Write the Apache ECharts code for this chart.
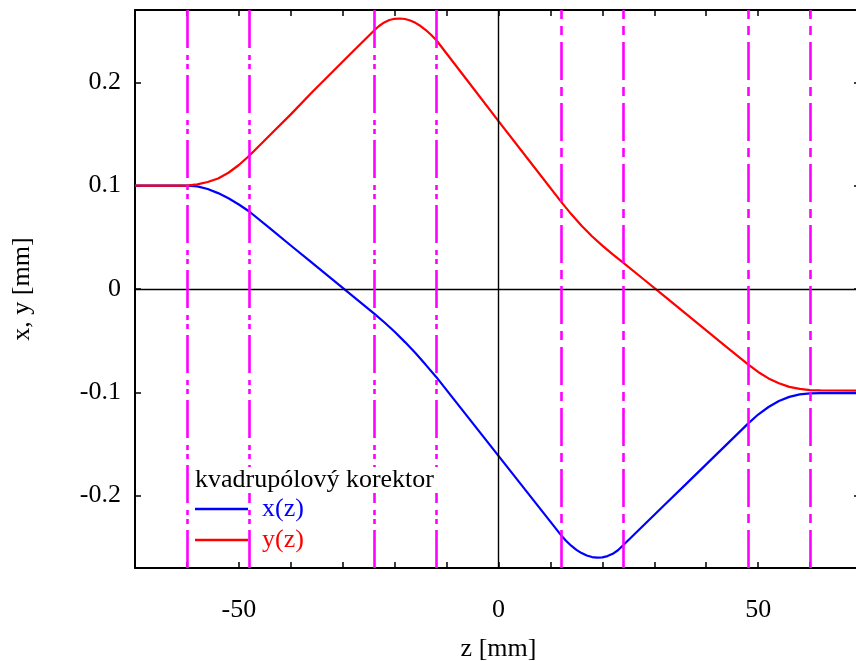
<!DOCTYPE html>
<html>
<head>
<meta charset="utf-8">
<script src="https://cdn.jsdelivr.net/npm/echarts@6/dist/echarts.min.js"></script>
<style>
  html, body { margin: 0; padding: 0; background: #fff; }
  #chart { width: 856px; height: 661px; }
</style>
</head>
<body>
<div id="chart"></div>
<script>
const font = 'Liberation Serif'

// x(z) – modra krivka
const zX = [-70, -60, -58, -56, -54, -52, -50, -48, -44, -40, -36, -32, -28, -24, -22, -20, -18, -16, -14, -12,
  -6, 0, 6, 12, 13, 14, 15, 16, 17, 18, 19, 20, 21, 22, 23, 24, 28, 32, 36, 40, 44, 48, 50, 52, 54, 56, 58, 60, 62, 70]
const xVals = [0.1, 0.1, 0.0993, 0.0968, 0.0928, 0.0878, 0.0818, 0.0750, 0.0586, 0.0421, 0.0257, 0.0093, -0.0072, -0.0236,
  -0.0322, -0.0414, -0.0514, -0.0620, -0.0734, -0.0851, -0.1233, -0.1615, -0.1997, -0.2380, -0.2436, -0.2484, -0.2524,
  -0.2556, -0.2579, -0.2594, -0.2600, -0.2597, -0.2585, -0.2563, -0.2528, -0.2480, -0.2284, -0.2088, -0.1893, -0.1697,
  -0.1501, -0.1305, -0.1215, -0.1142, -0.1084, -0.1044, -0.1020, -0.1010, -0.1008, -0.1008]

// y(z) – cervena krivka
const zY = [-70, -62, -60, -58, -56, -54, -52, -50, -48, -44, -40, -36, -32, -28, -24, -23, -22, -21, -20, -19, -18, -17,
  -16, -15, -14, -13, -12, -6, 0, 6, 12, 14, 16, 18, 20, 22, 24, 28, 32, 36, 40, 44, 48, 50, 52, 54, 56, 58, 60, 62, 70]
const yVals = [0.1, 0.1, 0.1, 0.1012, 0.1035, 0.1070, 0.1125, 0.1200, 0.1290, 0.149, 0.169, 0.190, 0.210, 0.230, 0.2500,
  0.2545, 0.2580, 0.2603, 0.2615, 0.2618, 0.2613, 0.2599, 0.2576, 0.2545, 0.2506, 0.2460, 0.2410, 0.2018, 0.1625, 0.1236,
  0.0848, 0.0725, 0.0612, 0.0510, 0.0420, 0.0335, 0.0256, 0.0092, -0.0072, -0.0236, -0.0400, -0.0564, -0.0728, -0.0803,
  -0.0865, -0.0912, -0.0947, -0.0967, -0.0978, -0.0982, -0.0984]

const xTicks = [-60, -50, -40, -30, -20, -10, 0, 10, 20, 30, 40, 50, 60]
const xLabels = [-50, 0, 50]
const yTicks = [-0.2, -0.1, 0, 0.1, 0.2]

// hranice korektoru
const leftMarks = [-60, -48, -24, -12]
const rightMarks = [12, 24, 48, 60]

const pair = (zs, vs) => zs.map((z, i) => [z, vs[i]])

const frameLine = { show: true, lineStyle: { color: '#000', width: 2 } }
const txt = { fontFamily: font, fontSize: 26, color: '#000' }

function vLines(values, dash) {
  return {
    silent: true,
    symbol: ['none', 'none'],
    label: { show: false },
    lineStyle: { color: '#ff00ff', width: 2.6, type: dash, opacity: 1 },
    emphasis: { disabled: true },
    data: values.map(v => ({ xAxis: v }))
  }
}

const chart = echarts.init(document.getElementById('chart'))

chart.setOption({
  animation: false,
  backgroundColor: '#fff',
  title: {
    text: 'kvadrupólový korektor',
    left: 191,
    top: 467,
    padding: [0, 4],
    backgroundColor: '#fff',
    textStyle: Object.assign({}, txt, { fontWeight: 'normal' })
  },
  legend: {
    orient: 'vertical',
    left: 195,
    top: 496,
    padding: 0,
    itemGap: 5,
    itemWidth: 53,
    itemHeight: 2.5,
    icon: 'rect',
    selectedMode: false,
    textStyle: { fontFamily: font, fontSize: 26, padding: [0, 0, 0, 9] },
    data: [
      { name: 'x(z)', textStyle: { color: '#0000ff' } },
      { name: 'y(z)', textStyle: { color: '#ff0000' } }
    ]
  },
  grid: {
    left: 135,
    right: -6,
    top: 10,
    bottom: 93,
    outerBoundsMode: 'none'
  },
  xAxis: [{
    type: 'value',
    min: -70,
    max: 70,
    interval: 10,
    position: 'bottom',
    name: 'z [mm]',
    nameLocation: 'middle',
    nameGap: 68,
    nameTextStyle: txt,
    axisLine: Object.assign({ onZero: false }, frameLine),
    axisTick: { inside: true, length: 6, customValues: xTicks, lineStyle: { color: '#000', width: 1.5 } },
    axisLabel: Object.assign({ customValues: xLabels, margin: 29 }, txt),
    splitLine: { show: false }
  }, {
    type: 'value',
    min: -70,
    max: 70,
    interval: 10,
    position: 'top',
    axisLine: Object.assign({ onZero: false }, frameLine),
    axisTick: { inside: true, length: 6, customValues: xTicks, lineStyle: { color: '#000', width: 1.5 } },
    axisLabel: { show: false },
    splitLine: { show: false }
  }],
  yAxis: [{
    type: 'value',
    min: -0.27,
    max: 0.27,
    position: 'left',
    name: 'x, y [mm]',
    nameLocation: 'middle',
    nameGap: 100,
    nameTextStyle: txt,
    axisLine: Object.assign({ onZero: false }, frameLine),
    axisTick: { inside: true, length: 6, customValues: yTicks, lineStyle: { color: '#000', width: 1.5 } },
    axisLabel: Object.assign({ customValues: yTicks, margin: 14, formatter: v => String(+v.toFixed(1)) }, txt),
    splitLine: { show: false }
  }, {
    type: 'value',
    min: -0.27,
    max: 0.27,
    position: 'right',
    axisLine: Object.assign({ onZero: false }, frameLine),
    axisTick: { inside: true, length: 8, customValues: yTicks, lineStyle: { color: '#000', width: 1.5 } },
    axisLabel: { show: false },
    splitLine: { show: false }
  }],
  series: [{
    name: 'osy',
    type: 'line',
    data: [],
    markLine: {
      silent: true,
      symbol: ['none', 'none'],
      label: { show: false },
      lineStyle: { color: '#000', width: 1.4, type: 'solid' },
      data: [{ yAxis: 0 }, { xAxis: 0 }]
    }
  }, {
    name: 'x(z)',
    type: 'line',
    showSymbol: false,
    symbol: 'none',
    color: '#0000ff',
    lineStyle: { width: 2.2, color: '#0000ff' },
    data: pair(zX, xVals)
  }, {
    name: 'y(z)',
    type: 'line',
    showSymbol: false,
    symbol: 'none',
    color: '#ff0000',
    lineStyle: { width: 2.2, color: '#ff0000' },
    data: pair(zY, yVals)
  }, {
    name: 'lave',
    type: 'line',
    data: [],
    markLine: vLines(leftMarks, [38, 6, 5, 4, 5, 7])
  }, {
    name: 'prave',
    type: 'line',
    data: [],
    markLine: vLines(rightMarks, [38, 7, 9, 7])
  }]
})
</script>
</body>
</html>
